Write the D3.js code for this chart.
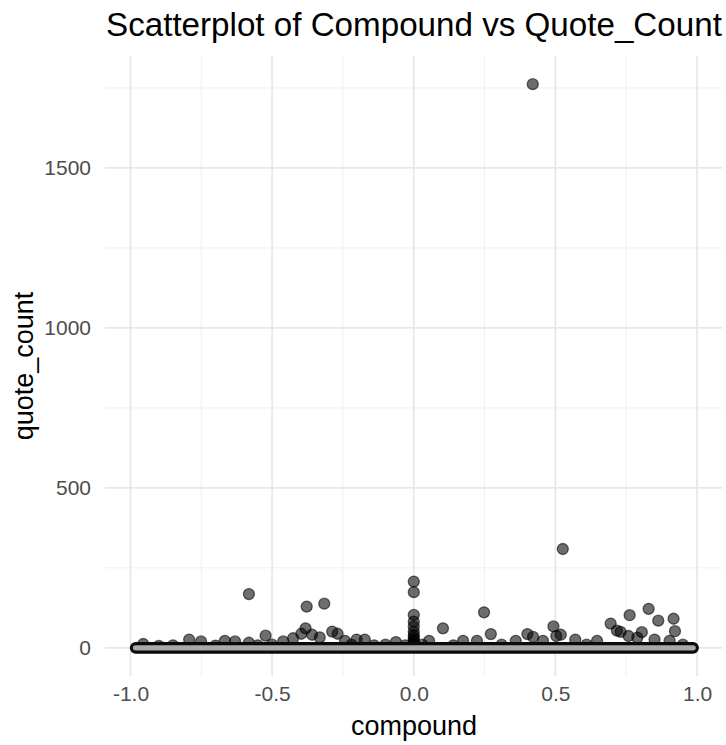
<!DOCTYPE html>
<html lang="en">
<head>
<meta charset="UTF-8">
<title>Scatterplot of Compound vs Quote_Count</title>
<script src="https://d3js.org/d3.v7.min.js"></script>
<style>
  html, body { margin: 0; padding: 0; background: #fff; }
  svg { display: block; font-family: "Liberation Sans", Arial, Helvetica, sans-serif; }
</style>
</head>
<body>
<div id="chart"></div>
<script>
// points with a quote count above zero
const compound = [
  -0.955, -0.90, -0.85, -0.793, -0.751, -0.70, -0.667, -0.631, -0.582, -0.582, -0.55, -0.523, -0.50,
  -0.461, -0.426, -0.397, -0.382, -0.378, -0.359, -0.332, -0.316, -0.288, -0.269, -0.243, -0.22,
  -0.202, -0.173, -0.14, -0.10, -0.063, -0.03,
  0, 0, 0, 0, 0, 0, 0, 0, 0, 0, 0, 0,
  0.03, 0.054, 0.103, 0.14, 0.174, 0.223, 0.248, 0.272, 0.31, 0.36, 0.401, 0.421, 0.42, 0.456,
  0.493, 0.503, 0.519, 0.526, 0.570, 0.61, 0.647, 0.695, 0.717, 0.730, 0.758, 0.762, 0.789, 0.805,
  0.829, 0.850, 0.863, 0.903, 0.917, 0.922, 0.95
];
const quoteCount = [
  12, 6, 8, 26, 20, 7, 22, 20, 16, 168, 8, 38, 10,
  20, 30, 44, 61, 129, 41, 33, 138, 51, 44, 22, 10,
  26, 26, 8, 10, 18, 8,
  207, 174, 103, 82, 67, 51, 40, 32, 25, 18, 12, 8,
  10, 22, 61, 8, 22, 22, 111, 43, 10, 22, 43, 34, 1762, 22,
  67, 37, 41, 309, 26, 10, 22, 76, 54, 50, 37, 102, 32, 49,
  122, 26, 85, 22, 91, 52, 10
];
// the dense run of posts with no quotes at all
const zeroCompound = [
  -0.982, -0.955, -0.93, -0.90, -0.875, -0.85, -0.82, -0.79, -0.765, -0.74, -0.71, -0.68, -0.655,
  -0.63, -0.60, -0.57, -0.545, -0.52, -0.49, -0.46, -0.435, -0.41, -0.38, -0.35, -0.325, -0.30,
  -0.27, -0.24, -0.215, -0.19, -0.16, -0.13, -0.105, -0.08, -0.05, -0.02, 0, 0.025, 0.05, 0.08,
  0.11, 0.135, 0.16, 0.19, 0.22, 0.245, 0.27, 0.30, 0.33, 0.355, 0.38, 0.41, 0.44, 0.465, 0.49,
  0.52, 0.55, 0.575, 0.60, 0.63, 0.66, 0.685, 0.71, 0.74, 0.77, 0.795, 0.82, 0.85, 0.88, 0.905,
  0.93, 0.96, 0.986
];
const xTicks = [-1.0, -0.5, 0.0, 0.5, 1.0];
const xMinor = [-0.75, -0.25, 0.25, 0.75];
const yTicks = [0, 500, 1000, 1500];
const yMinor = [250, 750, 1250, 1750];

const width = 726, height = 745;
const panel = { left: 105, right: 722, top: 56, bottom: 676 };

const svg = d3.select("#chart").append("svg")
  .attr("width", width)
  .attr("height", height);

const x = d3.scaleLinear().domain([-1.09, 1.088]).range([panel.left, panel.right]);
const y = d3.scaleLinear().domain([-88, 1850]).range([panel.bottom, panel.top]);

// grid
const grid = svg.append("g");
grid.selectAll(".xminor").data(xMinor).join("line")
  .attr("x1", d => x(d)).attr("x2", d => x(d))
  .attr("y1", panel.top).attr("y2", panel.bottom)
  .attr("stroke", "#f0f0f0").attr("stroke-width", 1);
grid.selectAll(".yminor").data(yMinor).join("line")
  .attr("y1", d => y(d)).attr("y2", d => y(d))
  .attr("x1", panel.left).attr("x2", panel.right)
  .attr("stroke", "#f0f0f0").attr("stroke-width", 1);
grid.selectAll(".xmajor").data(xTicks).join("line")
  .attr("x1", d => x(d)).attr("x2", d => x(d))
  .attr("y1", panel.top).attr("y2", panel.bottom)
  .attr("stroke", "#e8e8e8").attr("stroke-width", 1.8);
grid.selectAll(".ymajor").data(yTicks).join("line")
  .attr("y1", d => y(d)).attr("y2", d => y(d))
  .attr("x1", panel.left).attr("x2", panel.right)
  .attr("stroke", "#e8e8e8").attr("stroke-width", 1.8);

// axes (text only, like theme_minimal)
const xAxis = svg.append("g")
  .attr("transform", `translate(0,${panel.bottom + 2})`)
  .call(d3.axisBottom(x).tickValues(xTicks).tickFormat(d3.format(".1f")).tickSize(0).tickPadding(8));
const yAxis = svg.append("g")
  .attr("transform", `translate(${panel.left - 14},0)`)
  .call(d3.axisLeft(y).tickValues(yTicks).tickFormat(d3.format("d")).tickSize(0).tickPadding(0));
[xAxis, yAxis].forEach(a => {
  a.select(".domain").remove();
  a.selectAll("text")
    .attr("fill", "#4d4d4d")
    .style("font-size", "21px")
    .style("font-family", "Liberation Sans, Arial, sans-serif")
    .text(function () { return this.textContent.replace("−", "-"); });
});

// points
const pts = compound.map((c, i) => ({ c, q: quoteCount[i] }));
const r = 5.5;
svg.append("g").selectAll("circle").data(pts).join("circle")
  .attr("cx", d => x(d.c)).attr("cy", d => y(d.q)).attr("r", r)
  .attr("fill", "rgba(0,0,0,0.57)")
  .attr("stroke", "rgba(0,0,0,0.57)")
  .attr("stroke-width", 1.3);

// zero band: so many points overlap that they read as one bar,
// dark rims outside and a lighter core
const bandLine = d3.line().x(d => x(d)).y(() => y(0));
svg.append("path")
  .attr("d", bandLine(zeroCompound))
  .attr("fill", "none")
  .attr("stroke", "#0a0a0a")
  .attr("stroke-width", r * 2 + 0.6)
  .attr("stroke-linecap", "round");
svg.append("path")
  .attr("d", bandLine(zeroCompound))
  .attr("fill", "none")
  .attr("stroke", "#a9a9a9")
  .attr("stroke-width", 5.4)
  .attr("stroke-linecap", "round");

// titles
const title = svg.append("text")
  .attr("x", panel.left + 1).attr("y", 36)
  .attr("fill", "#000")
  .style("font-size", "33px")
  .text("Scatterplot of Compound vs Quote_Count");
const tw = title.node().getComputedTextLength();
title.style("font-size", (33 * 616 / tw).toFixed(2) + "px");

svg.append("text")
  .attr("x", (panel.left + panel.right) / 2 + 0.5).attr("y", 735)
  .attr("text-anchor", "middle")
  .attr("fill", "#000")
  .style("font-size", "27px")
  .text("compound");

svg.append("text")
  .attr("transform", "translate(33,366) rotate(-90)")
  .attr("text-anchor", "middle")
  .attr("fill", "#000")
  .style("font-size", "27px")
  .text("quote_count");
</script>
</body>
</html>
